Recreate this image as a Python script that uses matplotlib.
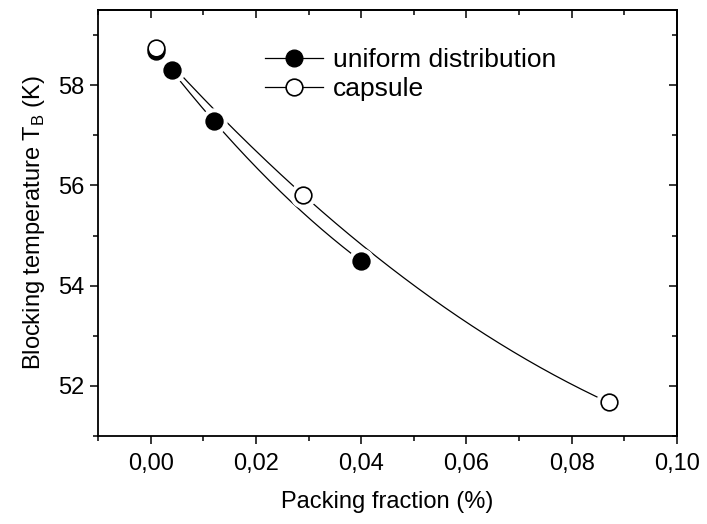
import numpy as np
import matplotlib
matplotlib.use("Agg")
import matplotlib.pyplot as plt
from matplotlib.ticker import MultipleLocator, FuncFormatter

plt.rcParams['font.family'] = ['Liberation Sans', 'DejaVu Sans']
plt.rcParams['mathtext.fontset'] = 'custom'
plt.rcParams['mathtext.rm'] = 'Liberation Sans'

# data
uniform_x = [0.001, 0.004, 0.012, 0.040]
uniform_y = [58.69, 58.30, 57.28, 54.49]
capsule_x = [0.001, 0.029, 0.087]
capsule_y = [58.75, 55.81, 51.67]

fig = plt.figure(figsize=(7.07, 5.24), dpi=100)
ax = fig.add_axes([98 / 707, 1 - 436 / 524, 579 / 707, 426 / 524])

ms = 12
for xs, ys, face, lab in [(uniform_x, uniform_y, 'black', 'uniform distribution'),
                          (capsule_x, capsule_y, 'white', 'capsule')]:
    # smooth guide line through the points (quadratic fit)
    coef = np.polyfit(xs, ys, 2)
    xx = np.linspace(min(xs), max(xs), 200)
    ax.plot(xx, np.polyval(coef, xx), color='black', lw=0.9, zorder=1)
    # white halo gives the gap between line and marker
    ax.plot(xs, ys, ls='none', marker='o', ms=ms + 6, mfc='white', mec='white', zorder=2)
    ax.plot(xs, ys, ls='none', marker='o', ms=ms, mfc=face, mec='black', mew=1.2, zorder=3)

# legend handles
h1, = ax.plot([], [], color='black', lw=0.9, marker='o', ms=ms, mfc='black', mec='black')
h2, = ax.plot([], [], color='black', lw=0.9, marker='o', ms=ms, mfc='white', mec='black', mew=1.2)
ax.legend([h1, h2], ['uniform distribution', 'capsule'], loc='upper left',
          bbox_to_anchor=(0.288, 0.911), frameon=False, fontsize=19,
          handlelength=2.2, handletextpad=0.4, labelspacing=0.2, borderpad=0, borderaxespad=0)

ax.set_xlim(-0.01, 0.10)
ax.set_ylim(51, 59.5)
ax.xaxis.set_major_locator(MultipleLocator(0.02))
ax.xaxis.set_minor_locator(MultipleLocator(0.01))
ax.yaxis.set_major_locator(MultipleLocator(2))
ax.yaxis.set_minor_locator(MultipleLocator(1))
ax.xaxis.set_major_formatter(FuncFormatter(lambda v, p: f"{v:.2f}".replace('.', ',')))

ax.tick_params(which='both', direction='out', width=1.1, labelsize=17, top=False, right=False)
ax.tick_params(which='major', length=6)
ax.tick_params(which='minor', length=3.5)
ax.tick_params(axis='x', pad=6)

# inward ticks on top and right
top = ax.secondary_xaxis('top')
top.xaxis.set_major_locator(MultipleLocator(0.02))
top.xaxis.set_minor_locator(MultipleLocator(0.01))
top.tick_params(which='both', direction='in', width=1.1, labeltop=False)
top.tick_params(which='major', length=6)
top.tick_params(which='minor', length=3.5)
right = ax.secondary_yaxis('right')
right.yaxis.set_major_locator(MultipleLocator(2))
right.yaxis.set_minor_locator(MultipleLocator(1))
right.tick_params(which='both', direction='in', width=1.1, labelright=False)
right.tick_params(which='major', length=6)
right.tick_params(which='minor', length=3.5)

for s in ax.spines.values():
    s.set_linewidth(1.3)
top.spines['top'].set_linewidth(1.3)
right.spines['right'].set_linewidth(1.3)

ax.set_xlabel('Packing fraction (%)', fontsize=17, labelpad=12)
ax.set_ylabel(r'Blocking temperature T$_\mathregular{B}$ (K)', fontsize=17, labelpad=8)

fig.savefig('out.png', dpi=100)
